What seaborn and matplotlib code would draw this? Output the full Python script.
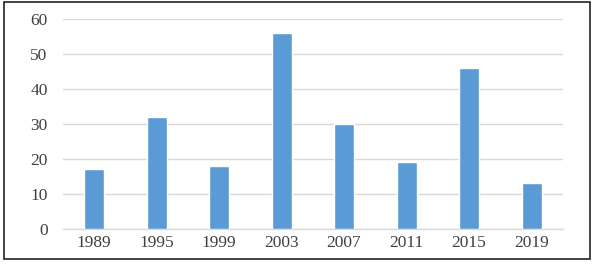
import matplotlib
matplotlib.use("Agg")
import matplotlib.pyplot as plt
import seaborn as sns
import pandas as pd
from matplotlib.patches import Rectangle

years = ["1989", "1995", "1999", "2003", "2007", "2011", "2015", "2019"]
values = [17, 32, 18, 56, 30, 19, 46, 13]
yticks = [0, 10, 20, 30, 40, 50, 60]

df = pd.DataFrame({"year": years, "value": values})

sns.set_style("white")
plt.rcParams["font.family"] = ["Liberation Serif", "DejaVu Serif"]

fig = plt.figure(figsize=(5.93, 2.65), dpi=100)
ax = fig.add_axes([0.106, 0.136, 0.843, 0.792])

sns.barplot(data=df, x="year", y="value", color="#5B9BD5", saturation=1,
            width=0.32, ax=ax, zorder=3)

ax.set_ylim(0, 60)
ax.set_yticks(yticks)
ax.yaxis.grid(True, color="#D9D9D9", linewidth=1, zorder=0)
ax.set_axisbelow(True)
for s in ["top", "right", "left"]:
    ax.spines[s].set_visible(False)
ax.spines["bottom"].set_color("#D9D9D9")
ax.spines["bottom"].set_linewidth(1)
ax.set_xlabel("")
ax.set_ylabel("")
ax.tick_params(axis="both", length=0, labelsize=12.5, labelcolor="#404040")
ax.tick_params(axis="y", pad=11)
ax.tick_params(axis="x", pad=4)

fig.add_artist(Rectangle((4 / 593, 6 / 265), 586 / 593, 257 / 265,
                         transform=fig.transFigure, fill=False,
                         edgecolor="#222222", linewidth=1.2))

fig.savefig("out.png", dpi=100)
